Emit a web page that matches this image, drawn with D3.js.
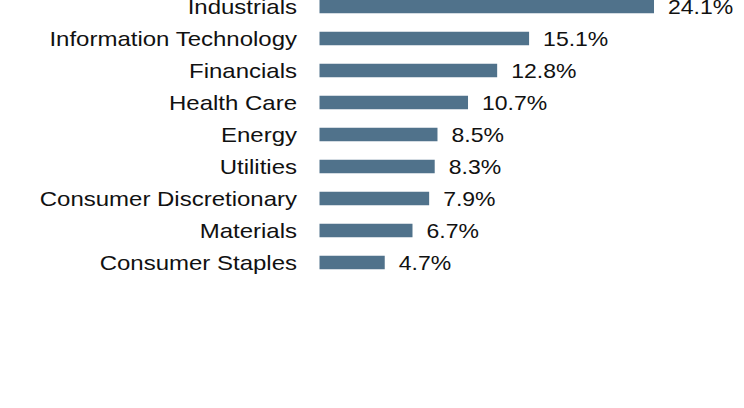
<!DOCTYPE html>
<html><head><meta charset="utf-8">
<script src="https://cdn.jsdelivr.net/npm/d3@7"></script>
<style>html,body{margin:0;padding:0;background:#fff;}svg{display:block;}</style>
</head><body>
<script>
const categories = ["Industrials","Information Technology","Financials","Health Care","Energy","Utilities","Consumer Discretionary","Materials","Consumer Staples"];
const values = [24.1,15.1,12.8,10.7,8.5,8.3,7.9,6.7,4.7];
const valueLabels = ["24.1%","15.1%","12.8%","10.7%","8.5%","8.3%","7.9%","6.7%","4.7%"];

const W = 744, H = 408;
const svg = d3.select("body").append("svg").attr("width", W).attr("height", H);

const x = d3.scaleLinear().domain([0, 25]).range([319.5, 666.5]);
const y = d3.scalePoint().domain(categories).range([6.5, 262.5]);
const barH = 13.5;
const font = "'Liberation Sans', Arial, Helvetica, sans-serif";

const rows = categories.map((c, i) => ({c, v: values[i], l: valueLabels[i]}));

svg.selectAll("rect.bar").data(rows).enter().append("rect")
  .attr("class","bar")
  .attr("x", x(0))
  .attr("y", d => y(d.c) - barH/2)
  .attr("width", d => x(d.v) - x(0))
  .attr("height", barH)
  .attr("fill", "#50728b");

svg.selectAll("text.cat").data(rows).enter().append("text")
  .attr("class","cat")
  .attr("transform", d => `translate(297,${y(d.c) + 7}) scale(1.2,1)`)
  .attr("text-anchor","end")
  .attr("font-family", font)
  .attr("font-size", 20)
  .attr("fill", "#111")
  .text(d => d.c);

svg.selectAll("text.val").data(rows).enter().append("text")
  .attr("class","val")
  .attr("transform", d => `translate(${x(d.v) + 14},${y(d.c) + 7}) scale(1.15,1)`)
  .attr("text-anchor","start")
  .attr("font-family", font)
  .attr("font-size", 20)
  .attr("fill", "#111")
  .text(d => d.l);
</script>
</body></html>
